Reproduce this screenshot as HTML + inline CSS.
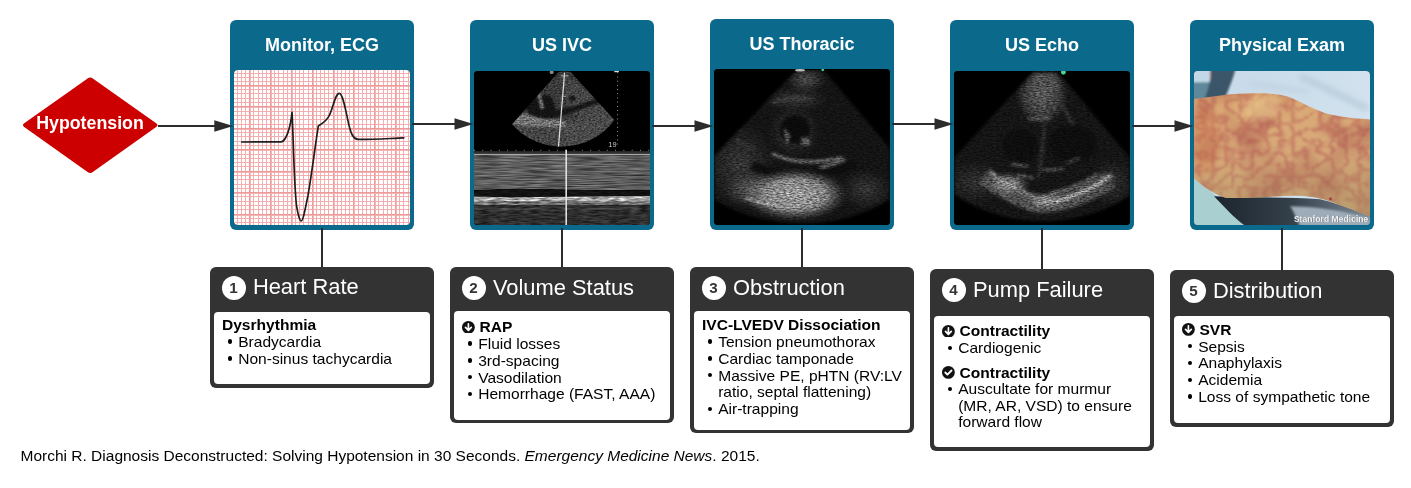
<!DOCTYPE html>
<html><head><meta charset="utf-8"><title>Hypotension</title>
<style>
*{margin:0;padding:0;box-sizing:border-box}
html,body{width:1411px;height:488px;overflow:hidden;background:#fff}
body{position:relative;font-family:"Liberation Sans", sans-serif;color:#000;-webkit-font-smoothing:antialiased}
#wrap{position:absolute;left:0;top:0;width:1411px;height:488px;will-change:transform}
.a{position:absolute}
.card{position:absolute;width:184px;background:#0b6a8b;border-radius:6px}
.ct{position:absolute;left:0;width:184px;text-align:center;color:#fff;font-weight:bold;font-size:18.0px;line-height:20px;white-space:nowrap}
.img{position:absolute;left:4px;width:176px;border-radius:4px;overflow:hidden;background:#000}
.img svg{display:block}
.box{position:absolute;width:224px;background:#333333;border-radius:6px}
.inner{position:absolute;left:4px;right:4px;bottom:3.6px;background:#fff;border-radius:4px}
.num{position:absolute;width:24.2px;height:24.2px;border-radius:50%;background:#fff;color:#333;font-weight:bold;font-size:15.2px;line-height:24.6px;text-align:center;text-indent:-1px}
.bt{position:absolute;color:#fff;font-size:21.9px;line-height:24px;white-space:nowrap}
.tx{position:absolute;font-size:15.55px;line-height:17px;white-space:nowrap;color:#000}
.b{font-weight:bold}
.dot{position:absolute;width:4.4px;height:4.4px;border-radius:50%;background:#000}
</style></head><body><div id="wrap">

<svg class="a" style="left:0;top:0;z-index:5" width="1411" height="488" viewBox="0 0 1411 488"><path d="M87.59,78.45 Q90.20,76.60 92.81,78.45 L156.19,123.35 Q158.80,125.20 156.19,127.05 L92.81,171.95 Q90.20,173.80 87.59,171.95 L24.21,127.05 Q21.60,125.20 24.21,123.35 Z" fill="#cc0000"/><line x1="158" y1="126" x2="215.29999999999998" y2="126" stroke="#2c2c2c" stroke-width="2.2"/><path d="M214.29999999999998,120.3 L233.2,126 L214.29999999999998,131.7 Z" fill="#2c2c2c"/><line x1="412" y1="124" x2="455.5" y2="124" stroke="#2c2c2c" stroke-width="2.2"/><path d="M454.5,118.3 L473.4,124 L454.5,129.7 Z" fill="#2c2c2c"/><line x1="652" y1="126" x2="695.5" y2="126" stroke="#2c2c2c" stroke-width="2.2"/><path d="M694.5,120.3 L713.4,126 L694.5,131.7 Z" fill="#2c2c2c"/><line x1="892" y1="124" x2="935.5" y2="124" stroke="#2c2c2c" stroke-width="2.2"/><path d="M934.5,118.3 L953.4,124 L934.5,129.7 Z" fill="#2c2c2c"/><line x1="1132" y1="126" x2="1175.5" y2="126" stroke="#2c2c2c" stroke-width="2.2"/><path d="M1174.5,120.3 L1193.4,126 L1174.5,131.7 Z" fill="#2c2c2c"/></svg>
<div class="a" style="left:321px;top:227.6px;width:2px;height:39.4px;background:#2c2c2c;z-index:5"></div>
<div class="a" style="left:561px;top:227.6px;width:2px;height:39.5px;background:#2c2c2c;z-index:5"></div>
<div class="a" style="left:801px;top:227.6px;width:2px;height:39.5px;background:#2c2c2c;z-index:5"></div>
<div class="a" style="left:1041px;top:227.6px;width:2px;height:41.5px;background:#2c2c2c;z-index:5"></div>
<div class="a" style="left:1281px;top:227.6px;width:2px;height:42.6px;background:#2c2c2c;z-index:5"></div>
<div class="a" style="z-index:6;left:22px;width:136px;text-align:center;top:112.76px;color:#fff;font-weight:bold;font-size:17.8px;line-height:20px">Hypotension</div>
<div class="card" style="left:230px;top:20.3px;height:209.3px"><div class="ct" style="top:14.26px">Monitor, ECG</div><div class="img" style="top:49.3px;height:155.9px"><svg width="176" height="156" viewBox="234 69.6 176 156" shape-rendering="crispEdges">
<rect x="234" y="70" width="176" height="156" fill="#fff"/>
<g fill-opacity="0.92"><rect x="233" y="70" width="1" height="156" fill="#f3a9a9"/><rect x="237" y="70" width="1" height="156" fill="#f3a9a9"/><rect x="241" y="70" width="1" height="156" fill="#f3a9a9"/><rect x="245" y="70" width="1" height="156" fill="#f3a9a9"/><rect x="249" y="70" width="1" height="156" fill="#ec9191"/><rect x="250" y="70" width="0.6" height="156" fill="#f3b0b0"/><rect x="253" y="70" width="1" height="156" fill="#f3a9a9"/><rect x="258" y="70" width="1" height="156" fill="#f3a9a9"/><rect x="262" y="70" width="1" height="156" fill="#f3a9a9"/><rect x="266" y="70" width="1" height="156" fill="#f3a9a9"/><rect x="270" y="70" width="1" height="156" fill="#ec9191"/><rect x="271" y="70" width="0.6" height="156" fill="#f3b0b0"/><rect x="274" y="70" width="1" height="156" fill="#f3a9a9"/><rect x="278" y="70" width="1" height="156" fill="#f3a9a9"/><rect x="283" y="70" width="1" height="156" fill="#f3a9a9"/><rect x="287" y="70" width="1" height="156" fill="#f3a9a9"/><rect x="291" y="70" width="1" height="156" fill="#ec9191"/><rect x="292" y="70" width="0.6" height="156" fill="#f3b0b0"/><rect x="295" y="70" width="1" height="156" fill="#f3a9a9"/><rect x="299" y="70" width="1" height="156" fill="#f3a9a9"/><rect x="303" y="70" width="1" height="156" fill="#f3a9a9"/><rect x="308" y="70" width="1" height="156" fill="#f3a9a9"/><rect x="312" y="70" width="1" height="156" fill="#ec9191"/><rect x="313" y="70" width="0.6" height="156" fill="#f3b0b0"/><rect x="316" y="70" width="1" height="156" fill="#f3a9a9"/><rect x="320" y="70" width="1" height="156" fill="#f3a9a9"/><rect x="324" y="70" width="1" height="156" fill="#f3a9a9"/><rect x="328" y="70" width="1" height="156" fill="#f3a9a9"/><rect x="333" y="70" width="1" height="156" fill="#ec9191"/><rect x="334" y="70" width="0.6" height="156" fill="#f3b0b0"/><rect x="337" y="70" width="1" height="156" fill="#f3a9a9"/><rect x="341" y="70" width="1" height="156" fill="#f3a9a9"/><rect x="345" y="70" width="1" height="156" fill="#f3a9a9"/><rect x="349" y="70" width="1" height="156" fill="#f3a9a9"/><rect x="353" y="70" width="1" height="156" fill="#ec9191"/><rect x="354" y="70" width="0.6" height="156" fill="#f3b0b0"/><rect x="358" y="70" width="1" height="156" fill="#f3a9a9"/><rect x="362" y="70" width="1" height="156" fill="#f3a9a9"/><rect x="366" y="70" width="1" height="156" fill="#f3a9a9"/><rect x="370" y="70" width="1" height="156" fill="#f3a9a9"/><rect x="374" y="70" width="1" height="156" fill="#ec9191"/><rect x="375" y="70" width="0.6" height="156" fill="#f3b0b0"/><rect x="378" y="70" width="1" height="156" fill="#f3a9a9"/><rect x="383" y="70" width="1" height="156" fill="#f3a9a9"/><rect x="387" y="70" width="1" height="156" fill="#f3a9a9"/><rect x="391" y="70" width="1" height="156" fill="#f3a9a9"/><rect x="395" y="70" width="1" height="156" fill="#ec9191"/><rect x="396" y="70" width="0.6" height="156" fill="#f3b0b0"/><rect x="399" y="70" width="1" height="156" fill="#f3a9a9"/><rect x="403" y="70" width="1" height="156" fill="#f3a9a9"/><rect x="408" y="70" width="1" height="156" fill="#f3a9a9"/><rect x="234" y="69" width="176" height="1" fill="#f3a9a9"/><rect x="234" y="73" width="176" height="1" fill="#f3a9a9"/><rect x="234" y="77" width="176" height="1" fill="#f3a9a9"/><rect x="234" y="81" width="176" height="1" fill="#f3a9a9"/><rect x="234" y="85" width="176" height="1" fill="#ec9191"/><rect x="234" y="86" width="176" height="0.6" fill="#f3b0b0"/><rect x="234" y="89" width="176" height="1" fill="#f3a9a9"/><rect x="234" y="93" width="176" height="1" fill="#f3a9a9"/><rect x="234" y="98" width="176" height="1" fill="#f3a9a9"/><rect x="234" y="102" width="176" height="1" fill="#f3a9a9"/><rect x="234" y="106" width="176" height="1" fill="#ec9191"/><rect x="234" y="107" width="176" height="0.6" fill="#f3b0b0"/><rect x="234" y="111" width="176" height="1" fill="#f3a9a9"/><rect x="234" y="115" width="176" height="1" fill="#f3a9a9"/><rect x="234" y="119" width="176" height="1" fill="#f3a9a9"/><rect x="234" y="124" width="176" height="1" fill="#f3a9a9"/><rect x="234" y="128" width="176" height="1" fill="#ec9191"/><rect x="234" y="129" width="176" height="0.6" fill="#f3b0b0"/><rect x="234" y="132" width="176" height="1" fill="#f3a9a9"/><rect x="234" y="136" width="176" height="1" fill="#f3a9a9"/><rect x="234" y="141" width="176" height="1" fill="#f3a9a9"/><rect x="234" y="145" width="176" height="1" fill="#f3a9a9"/><rect x="234" y="149" width="176" height="1" fill="#ec9191"/><rect x="234" y="150" width="176" height="0.6" fill="#f3b0b0"/><rect x="234" y="154" width="176" height="1" fill="#f3a9a9"/><rect x="234" y="158" width="176" height="1" fill="#f3a9a9"/><rect x="234" y="162" width="176" height="1" fill="#f3a9a9"/><rect x="234" y="166" width="176" height="1" fill="#f3a9a9"/><rect x="234" y="171" width="176" height="1" fill="#ec9191"/><rect x="234" y="172" width="176" height="0.6" fill="#f3b0b0"/><rect x="234" y="175" width="176" height="1" fill="#f3a9a9"/><rect x="234" y="179" width="176" height="1" fill="#f3a9a9"/><rect x="234" y="184" width="176" height="1" fill="#f3a9a9"/><rect x="234" y="188" width="176" height="1" fill="#f3a9a9"/><rect x="234" y="192" width="176" height="1" fill="#ec9191"/><rect x="234" y="193" width="176" height="0.6" fill="#f3b0b0"/><rect x="234" y="196" width="176" height="1" fill="#f3a9a9"/><rect x="234" y="201" width="176" height="1" fill="#f3a9a9"/><rect x="234" y="205" width="176" height="1" fill="#f3a9a9"/><rect x="234" y="209" width="176" height="1" fill="#f3a9a9"/><rect x="234" y="214" width="176" height="1" fill="#ec9191"/><rect x="234" y="215" width="176" height="0.6" fill="#f3b0b0"/><rect x="234" y="218" width="176" height="1" fill="#f3a9a9"/><rect x="234" y="222" width="176" height="1" fill="#f3a9a9"/></g>
<path shape-rendering="geometricPrecision" d="M241.7,141.6 L281.5,141.5 C286,140 290.5,128 292,112 C293,125 294,185 296.5,205 C298,215 300,221 301.3,220.6 C303,220.6 305,210 308,195 C312,172 316,140 318.3,125.5 C322,123.5 325.5,121 328.5,116.5 C333,109 335,93 339.3,93 C343,93 346,112 349,125 C351,133 353,138.5 358,139 C370,139.3 390,138 403.8,137.5" fill="none" stroke="#1e1e1e" stroke-width="1.7" stroke-linejoin="round" stroke-linecap="round"/>
</svg></div></div>
<div class="card" style="left:470px;top:20.3px;height:209.3px"><div class="ct" style="top:14.26px">US IVC</div><div class="img" style="top:50.4px;height:154.8px"><svg width="176" height="156" viewBox="474 70.7 176 156">
<defs>
<filter id="n2" x="0" y="0" width="100%" height="100%" color-interpolation-filters="sRGB"><feGaussianBlur in="SourceGraphic" stdDeviation="0.9" result="s"/><feTurbulence type="fractalNoise" baseFrequency="0.45 0.7" numOctaves="2" seed="2" result="t"/><feColorMatrix in="t" type="matrix" values="1 0 0 0 0  1 0 0 0 0  1 0 0 0 0  0 0 0 0 1" result="g0"/><feComponentTransfer in="g0" result="g"><feFuncR type="linear" slope="0.8" intercept="0.09999999999999998"/><feFuncG type="linear" slope="0.8" intercept="0.09999999999999998"/><feFuncB type="linear" slope="0.8" intercept="0.09999999999999998"/></feComponentTransfer><feComposite in="s" in2="g" operator="arithmetic" k1="2" k2="0" k3="0" k4="0"/></filter>
<filter id="n2h" x="0" y="0" width="100%" height="100%" color-interpolation-filters="sRGB"><feGaussianBlur in="SourceGraphic" stdDeviation="0.3" result="s"/><feTurbulence type="fractalNoise" baseFrequency="0.04 0.8" numOctaves="2" seed="5" result="t"/><feColorMatrix in="t" type="matrix" values="1 0 0 0 0  1 0 0 0 0  1 0 0 0 0  0 0 0 0 1" result="g0"/><feComponentTransfer in="g0" result="g"><feFuncR type="linear" slope="0.75" intercept="0.125"/><feFuncG type="linear" slope="0.75" intercept="0.125"/><feFuncB type="linear" slope="0.75" intercept="0.125"/></feComponentTransfer><feComposite in="s" in2="g" operator="arithmetic" k1="2" k2="0" k3="0" k4="0"/></filter>
<filter id="n2b" x="0" y="0" width="100%" height="100%" color-interpolation-filters="sRGB"><feGaussianBlur in="SourceGraphic" stdDeviation="0.7" result="s"/><feTurbulence type="fractalNoise" baseFrequency="0.1 0.6" numOctaves="2" seed="9" result="t"/><feColorMatrix in="t" type="matrix" values="1 0 0 0 0  1 0 0 0 0  1 0 0 0 0  0 0 0 0 1" result="g0"/><feComponentTransfer in="g0" result="g"><feFuncR type="linear" slope="0.9" intercept="0.04999999999999999"/><feFuncG type="linear" slope="0.9" intercept="0.04999999999999999"/><feFuncB type="linear" slope="0.9" intercept="0.04999999999999999"/></feComponentTransfer><feComposite in="s" in2="g" operator="arithmetic" k1="2" k2="0" k3="0" k4="0"/></filter>
<clipPath id="fan2"><path d="M558.5,71.8 Q564.5,70.2 570.6,71.8 L614.5,119.7 A66,66 0 0 1 512,124 Z"/></clipPath>
</defs>
<rect x="474" y="70" width="176" height="156" fill="#000"/>
<g clip-path="url(#fan2)"><g filter="url(#n2)">
<rect x="500" y="68" width="130" height="82" fill="#3a3a3a"/>
<path d="M560,72 L600,100 L612,118 L590,122 L570,112 Z" fill="#464646"/>
<path d="M514,116 C525,112 538,113 548,116 C555,119 560,121 566,121 L566,127 C545,128 525,126 512,124 Z" fill="#747474"/>
<path d="M512,124 C525,126 545,128 566,127 L566,146 L512,146 Z" fill="#444"/>
<path d="M524,106 C530,96 540,92 551,96 C555,104 557,110 555,118 C548,120 540,118 530,115 Z" fill="#141414"/>
<path d="M548,112 C560,109 572,106.5 580,104 C590,100.5 602,96.5 616,92 L616,98.5 C602,102 594,104.5 586,107.5 C572,113 560,116.5 548,119 Z" fill="#151515"/>
<ellipse cx="572.4" cy="98" rx="3.4" ry="2.6" fill="#121212"/>
<path d="M540,92 L544,108 L541,109 L537,93 Z" fill="#7e7e7e"/>
<path d="M566,122 C580,118 600,112 614,114 L614,140 L566,146 Z" fill="#4a4a4a"/>
</g></g>
<path d="M564.6,72.3 L558.5,146.3" stroke="#dcdcdc" stroke-width="1.2"/>
<path d="M561,75.5 L568.5,75.5 M561.5,96 L566,96" stroke="#bbb" stroke-width="0.8"/>
<circle cx="551.7" cy="71.9" r="1.9" fill="#8a8a8a"/>
<rect x="614.3" y="70.7" width="4.6" height="1.2" fill="#ddd"/>
<path d="M617.6,72 L617.6,144" stroke="#bbb" stroke-width="0.9" stroke-dasharray="0.9 3.3"/>
<text x="608.3" y="146.4" fill="#c8c8c8" font-size="7.4" font-family="Liberation Sans">19</text>
<path d="M474,150 L650,150" stroke="#aaa" stroke-width="0.9" stroke-dasharray="0.9 7.4"/>
<rect x="474" y="150.9" width="176" height="2.5" fill="#303030"/>
<rect x="474" y="153.5" width="176" height="1.2" fill="#a8a8a8"/>
<g filter="url(#n2h)">
<rect x="474" y="154.7" width="176" height="36" fill="#5c5c5c"/>
</g>
<g filter="url(#n2b)">
<path d="M474,190.2 C490,189.6 505,188.8 520,188.6 C540,188.6 560,189.6 600,190.2 C620,190.4 640,190.2 650,190 L650,195.6 C620,195.8 590,196 560,196.5 C540,196.8 520,197 500,196.8 C490,196.6 480,196.4 474,196.2 Z" fill="#121212"/>
<path d="M474,196.2 C480,196.4 490,196.6 500,196.8 C520,197 540,196.8 560,196.5 C590,196 620,195.8 650,195.6 L650,201.5 L474,201.5 Z" fill="#aeaeae"/>
<rect x="474" y="201.5" width="176" height="3.5" fill="#6e6e6e"/>
<rect x="474" y="205" width="176" height="21" fill="#2e2e2e"/>
<rect x="474" y="207.5" width="176" height="2" fill="#3e3e3e"/>
</g>
<path d="M566.2,149.5 L566.2,226" stroke="#e0e0e0" stroke-width="1.6"/>
</svg></div></div>
<div class="card" style="left:710px;top:19.3px;height:210.3px"><div class="ct" style="top:14.36px">US Thoracic</div><div class="img" style="top:50.1px;height:156.1px"><svg width="176" height="156" viewBox="714 69.4 176 156">
<defs>
<filter id="n3" x="0" y="0" width="100%" height="100%" color-interpolation-filters="sRGB"><feGaussianBlur in="SourceGraphic" stdDeviation="1.4" result="s"/><feTurbulence type="fractalNoise" baseFrequency="0.3 0.8" numOctaves="2" seed="7" result="t"/><feColorMatrix in="t" type="matrix" values="1 0 0 0 0  1 0 0 0 0  1 0 0 0 0  0 0 0 0 1" result="g0"/><feComponentTransfer in="g0" result="g"><feFuncR type="linear" slope="0.8" intercept="0.09999999999999998"/><feFuncG type="linear" slope="0.8" intercept="0.09999999999999998"/><feFuncB type="linear" slope="0.8" intercept="0.09999999999999998"/></feComponentTransfer><feComposite in="s" in2="g" operator="arithmetic" k1="2" k2="0" k3="0" k4="0"/></filter>
<filter id="sb3" x="-20%" y="-20%" width="140%" height="140%"><feGaussianBlur stdDeviation="1.5"/></filter>
<mask id="fan3" maskUnits="userSpaceOnUse" x="714" y="70" width="176" height="156"><path d="M797,70 L714,156.6 L714,199.9 A173,173 0 0 0 890,199.9 L890,149 L823,70 Z" fill="#fff" filter="url(#sb3)"/></mask>
<radialGradient id="t3a"><stop offset="0" stop-color="#4c4c4c"/><stop offset="1" stop-color="#4c4c4c" stop-opacity="0"/></radialGradient>
<radialGradient id="t3b"><stop offset="0" stop-color="#9c9c9c"/><stop offset="0.6" stop-color="#828282"/><stop offset="1" stop-color="#5a5a5a" stop-opacity="0"/></radialGradient>
<radialGradient id="t3c"><stop offset="0" stop-color="#363636"/><stop offset="1" stop-color="#363636" stop-opacity="0"/></radialGradient>
<radialGradient id="t3d"><stop offset="0" stop-color="#5c5c5c"/><stop offset="1" stop-color="#5c5c5c" stop-opacity="0"/></radialGradient>
</defs>
<rect x="714" y="70" width="176" height="156" fill="#000"/>
<g mask="url(#fan3)"><g filter="url(#n3)">
<rect x="700" y="60" width="200" height="170" fill="#141414"/>
<ellipse cx="740" cy="165" rx="36" ry="42" fill="url(#t3c)"/>
<ellipse cx="806" cy="80" rx="20" ry="14" fill="url(#t3a)"/>
<ellipse cx="795" cy="100" rx="34" ry="12" fill="url(#t3c)"/>
<ellipse cx="794" cy="132" rx="26" ry="26" fill="url(#t3c)"/>
<ellipse cx="866" cy="190" rx="26" ry="20" fill="url(#t3c)"/>
<ellipse cx="795" cy="130" rx="15" ry="14" fill="#0b0b0b"/>
<path d="M784,128 L790,136 L787,146 Z" fill="#6a6a6a"/>
<path d="M801,138 C806,136 811,139 811,145 L802,146 Z" fill="#585858"/>
<path d="M772,104 C785,98 800,97 812,100" stroke="#4a4a4a" stroke-width="1.8" fill="none"/>
<path d="M735,140 L755,150" stroke="#464646" stroke-width="1.5"/>
<path d="M728,125 L742,132" stroke="#3e3e3e" stroke-width="1.3"/>
<path d="M772,154 Q800,168 842,158" stroke="#858585" stroke-width="2.5" fill="none"/>
<path d="M752,166 Q800,186 856,164" stroke="#0e0e0e" stroke-width="9" fill="none"/>
<ellipse cx="752" cy="190" rx="28" ry="18" fill="url(#t3d)"/>
<ellipse cx="795" cy="195" rx="52" ry="26" fill="url(#t3b)"/>
<path d="M745,198 C755,202 768,205 780,207" stroke="#b0b0b0" stroke-width="2.2" fill="none"/>
<path d="M820,168 C830,166 838,163 845,160" stroke="#9a9a9a" stroke-width="2" fill="none"/>
</g></g>
<circle cx="822.8" cy="70.2" r="1.4" fill="#3fcf8a"/>
<ellipse cx="800" cy="70.6" rx="5" ry="1.2" fill="#bbb"/>
</svg></div></div>
<div class="card" style="left:950px;top:20.3px;height:209.3px"><div class="ct" style="top:14.26px">US Echo</div><div class="img" style="top:50.6px;height:154.6px"><svg width="176" height="156" viewBox="954 70.9 176 156">
<defs>
<filter id="n4" x="0" y="0" width="100%" height="100%" color-interpolation-filters="sRGB"><feGaussianBlur in="SourceGraphic" stdDeviation="1.4" result="s"/><feTurbulence type="fractalNoise" baseFrequency="0.3 0.8" numOctaves="2" seed="11" result="t"/><feColorMatrix in="t" type="matrix" values="1 0 0 0 0  1 0 0 0 0  1 0 0 0 0  0 0 0 0 1" result="g0"/><feComponentTransfer in="g0" result="g"><feFuncR type="linear" slope="0.85" intercept="0.07500000000000001"/><feFuncG type="linear" slope="0.85" intercept="0.07500000000000001"/><feFuncB type="linear" slope="0.85" intercept="0.07500000000000001"/></feComponentTransfer><feComposite in="s" in2="g" operator="arithmetic" k1="2" k2="0" k3="0" k4="0"/></filter>
<filter id="sb4" x="-20%" y="-20%" width="140%" height="140%"><feGaussianBlur stdDeviation="1.5"/></filter>
<mask id="fan4" maskUnits="userSpaceOnUse" x="954" y="70" width="176" height="156"><path d="M1033,72 L954,158 L954,194.4 A162,162 0 0 0 1130,195.7 L1130,158 L1058,72 Z" fill="#fff" filter="url(#sb4)"/></mask>
<radialGradient id="e4a"><stop offset="0" stop-color="#5a5a5a"/><stop offset="0.6" stop-color="#404040"/><stop offset="1" stop-color="#404040" stop-opacity="0"/></radialGradient>
<radialGradient id="e4c"><stop offset="0" stop-color="#303030"/><stop offset="1" stop-color="#303030" stop-opacity="0"/></radialGradient>
<radialGradient id="e4b"><stop offset="0" stop-color="#a0a0a0"/><stop offset="0.5" stop-color="#7a7a7a"/><stop offset="1" stop-color="#555" stop-opacity="0"/></radialGradient>
</defs>
<rect x="954" y="70" width="176" height="156" fill="#000"/>
<g mask="url(#fan4)"><g filter="url(#n4)">
<rect x="940" y="60" width="200" height="170" fill="#151515"/>
<ellipse cx="1042" cy="95" rx="26" ry="30" fill="url(#e4a)"/>
<path d="M1034,72 L1056,72 L1062,90 L1030,90 Z" fill="#555" opacity="0.6"/>
<ellipse cx="975" cy="182" rx="30" ry="22" fill="url(#e4c)"/>
<ellipse cx="1112" cy="182" rx="22" ry="24" fill="url(#e4c)"/>
<path d="M1028,119 L1050,118" stroke="#7a7a7a" stroke-width="1.6"/>
<path d="M1062,105 L1080,138" stroke="#363636" stroke-width="3"/>
<ellipse cx="1020" cy="146" rx="18" ry="17" fill="#0e0e0e"/>
<ellipse cx="1073" cy="144" rx="24" ry="19" fill="#0e0e0e"/>
<path d="M1045,121 L1039,178" stroke="#2e2e2e" stroke-width="3"/>
<path d="M1011,164 L1028,166" stroke="#9a9a9a" stroke-width="1.4"/>
<path d="M1042,170 L1064,169" stroke="#8a8a8a" stroke-width="1.4"/>
<path d="M1066,163 L1080,158" stroke="#777" stroke-width="1.2"/>
<path d="M984,176 C998,186 1014,196 1034,203 C1056,206 1084,196 1110,180" stroke="#4e4e4e" stroke-width="18" fill="none"/>
<ellipse cx="1008" cy="184" rx="22" ry="12" fill="url(#e4b)" opacity="0.8"/>
<ellipse cx="1046" cy="201" rx="22" ry="9" fill="url(#e4b)" opacity="0.9"/>
<path d="M990,172 C1004,182 1018,190 1034,197" stroke="#9a9a9a" stroke-width="2" fill="none"/>
<path d="M1056,201 C1075,197 1093,188 1112,175" stroke="#b4b4b4" stroke-width="3" fill="none"/>
<path d="M1050,193 C1068,190 1082,184 1098,174" stroke="#868686" stroke-width="1.8" fill="none"/>
<path d="M1018,175 L1034,178" stroke="#8a8a8a" stroke-width="1.5"/>
</g></g>
<circle cx="1063.4" cy="72.2" r="2.4" fill="#4fcf8d"/>
</svg></div></div>
<div class="card" style="left:1190px;top:20.3px;height:209.3px"><div class="ct" style="top:14.26px">Physical Exam</div><div class="img" style="top:50.4px;height:154.8px"><svg width="176" height="156" viewBox="1194 70.7 176 156">
<defs>
<filter id="mott" x="0" y="0" width="100%" height="100%" color-interpolation-filters="sRGB"><feTurbulence type="turbulence" baseFrequency="0.075 0.085" numOctaves="3" seed="4"/><feColorMatrix type="matrix" values="0 0 0 0 0.70  0 0 0 0 0.32  0 0 0 0 0.32  -3 0 0 0 1.15"/><feGaussianBlur stdDeviation="1.3"/><feComposite in2="SourceGraphic" operator="in"/></filter>
<filter id="broad" x="0" y="0" width="100%" height="100%" color-interpolation-filters="sRGB"><feTurbulence type="fractalNoise" baseFrequency="0.025" numOctaves="2" seed="8"/><feColorMatrix type="matrix" values="0 0 0 0 0.62  0 0 0 0 0.26  0 0 0 0 0.26  2.6 0 0 0 -1.15"/><feComposite in2="SourceGraphic" operator="in"/></filter>
<linearGradient id="olive" x1="0" y1="0" x2="0" y2="1"><stop offset="0.5" stop-color="#a89060" stop-opacity="0"/><stop offset="1" stop-color="#a08a5c" stop-opacity="0.45"/></linearGradient>
<filter id="bl1" x="-10%" y="-10%" width="120%" height="120%"><feGaussianBlur stdDeviation="1.2"/></filter>
<filter id="bl3" x="-20%" y="-20%" width="140%" height="140%"><feGaussianBlur stdDeviation="3"/></filter>
<linearGradient id="skin" x1="0" y1="0" x2="0.3" y2="1"><stop offset="0" stop-color="#dcaa72"/><stop offset="0.5" stop-color="#d8aa78"/><stop offset="1" stop-color="#cfa878"/></linearGradient>
<linearGradient id="sheet" x1="0" y1="0" x2="1" y2="0.3"><stop offset="0" stop-color="#c6d8e8"/><stop offset="1" stop-color="#d2e2ee"/></linearGradient>
<linearGradient id="shad" x1="0" y1="0" x2="1" y2="0"><stop offset="0" stop-color="#1c252e"/><stop offset="0.5" stop-color="#34404a"/><stop offset="1" stop-color="#7d8b98"/></linearGradient>
</defs>
<rect x="1194" y="70" width="176" height="156" fill="url(#sheet)"/>
<g filter="url(#bl1)">
<rect x="1190" y="66" width="22" height="18" fill="#c2d8e6"/>
<path d="M1190,82 L1212,82 L1214,100 L1190,100 Z" fill="#5e889a"/>
<path d="M1211,66 L1236,66 C1234,76 1230,86 1224,100 L1204,100 C1208,90 1211,80 1211,66 Z" fill="#3b5667"/>
<path d="M1210.5,70 L1210.5,79" stroke="#b04050" stroke-width="0.8"/>
</g>
<g filter="url(#bl3)">
<path d="M1300,76 C1320,84 1340,96 1368,108" stroke="#a3b9cb" stroke-width="3" fill="none"/>
<path d="M1250,84 C1270,86 1290,88 1310,92" stroke="#aec3d4" stroke-width="2" fill="none"/>
</g>
<path d="M1194,176 C1205,186 1214,194 1220,199 C1226,208 1234,218 1248,226 L1194,226 Z" fill="#a9cfd0"/>
<path d="M1214,196 C1250,198 1290,196 1320,199 C1345,205 1360,212 1370,216 L1370,226 L1246,226 C1234,218 1226,208 1214,196 Z" fill="url(#shad)"/>
<path d="M1290,206 C1330,207 1350,213 1370,218 L1370,226 L1300,226 C1296,218 1294,211 1290,206 Z" fill="#9eacba" filter="url(#bl1)"/>
<path d="M1194,98.7 C1215,96 1235,93 1252,93 C1268,93 1282,93.5 1292,98 C1305,104 1318,111 1330,114.3 C1345,117.5 1358,118.5 1370,119.2 L1370,216.5 C1355,210 1345,207 1330,201 C1315,196 1300,194 1284,195.8 C1260,197 1240,198 1226,197.6 C1215,194 1205,188 1194,178 Z" fill="url(#skin)"/>
<path d="M1194,98.7 C1215,96 1235,93 1252,93 C1268,93 1282,93.5 1292,98 C1305,104 1318,111 1330,114.3 C1345,117.5 1358,118.5 1370,119.2 L1370,216.5 C1355,210 1345,207 1330,201 C1315,196 1300,194 1284,195.8 C1260,197 1240,198 1226,197.6 C1215,194 1205,188 1194,178 Z" fill="#fff" filter="url(#mott)" opacity="0.55"/>
<path d="M1194,98.7 C1215,96 1235,93 1252,93 C1268,93 1282,93.5 1292,98 C1305,104 1318,111 1330,114.3 C1345,117.5 1358,118.5 1370,119.2 L1370,216.5 C1355,210 1345,207 1330,201 C1315,196 1300,194 1284,195.8 C1260,197 1240,198 1226,197.6 C1215,194 1205,188 1194,178 Z" fill="#fff" filter="url(#broad)" opacity="0.45"/>
<path d="M1194,98.7 C1215,96 1235,93 1252,93 C1268,93 1282,93.5 1292,98 C1305,104 1318,111 1330,114.3 C1345,117.5 1358,118.5 1370,119.2 L1370,216.5 C1355,210 1345,207 1330,201 C1315,196 1300,194 1284,195.8 C1260,197 1240,198 1226,197.6 C1215,194 1205,188 1194,178 Z" fill="url(#olive)"/>
<ellipse cx="1262" cy="108" rx="18" ry="12" fill="#efd092" opacity="0.55" filter="url(#bl3)"/>
<ellipse cx="1204" cy="140" rx="14" ry="34" fill="#c8704a" opacity="0.35" filter="url(#bl3)"/>
<circle cx="1330.5" cy="198.5" r="1.5" fill="#a8403a"/>
<text x="1368.9" y="221.8" text-anchor="end" fill="#333" opacity="0.6" font-size="8.6" font-weight="bold" font-family="Liberation Sans">Stanford Medicine</text><text x="1368.4" y="221.3" text-anchor="end" fill="#f4f4f4" font-size="8.6" font-weight="bold" font-family="Liberation Sans">Stanford Medicine</text>
</svg></div></div>
<div class="box" style="left:210px;top:266.5px;height:121.0px">
<div class="inner" style="top:45.0px"></div>
<div class="num" style="left:11.9px;top:9.0px">1</div>
<div class="bt" style="left:42.9px;top:8.91px">Heart Rate</div>
<div class="tx b" style="left:12.0px;top:49.61px">Dysrhythmia</div>
<div class="dot" style="left:17.8px;top:72.80px"></div>
<div class="tx" style="left:28.2px;top:66.31px">Bradycardia</div>
<div class="dot" style="left:17.8px;top:89.70px"></div>
<div class="tx" style="left:28.2px;top:83.21px">Non-sinus tachycardia</div>
</div>
<div class="box" style="left:450px;top:266.6px;height:156.5px">
<div class="inner" style="top:44.7px"></div>
<div class="num" style="left:11.9px;top:9.0px">2</div>
<div class="bt" style="left:42.9px;top:8.91px">Volume Status</div>
<div class="a" style="left:12.3px;top:54.00px"><svg width="12.8" height="12.8" viewBox="-6.4 -6.4 12.8 12.8" style="display:block"><circle r="6.4" fill="#111"/><path d="M0,-3.6 V2.6 M-2.9,0 L0,2.9 L2.9,0" fill="none" stroke="#fff" stroke-width="1.7" stroke-linecap="round" stroke-linejoin="round"/></svg></div>
<div class="tx b" style="left:29.5px;top:51.51px">RAP</div>
<div class="dot" style="left:17.8px;top:74.80px"></div>
<div class="tx" style="left:28.2px;top:68.31px">Fluid losses</div>
<div class="dot" style="left:17.8px;top:91.60px"></div>
<div class="tx" style="left:28.2px;top:85.11px">3rd-spacing</div>
<div class="dot" style="left:17.8px;top:108.40px"></div>
<div class="tx" style="left:28.2px;top:101.91px">Vasodilation</div>
<div class="dot" style="left:17.8px;top:125.30px"></div>
<div class="tx" style="left:28.2px;top:118.81px">Hemorrhage (FAST, AAA)</div>
</div>
<div class="box" style="left:690px;top:266.6px;height:166.5px">
<div class="inner" style="top:44.9px"></div>
<div class="num" style="left:11.9px;top:9.0px">3</div>
<div class="bt" style="left:42.9px;top:8.91px">Obstruction</div>
<div class="tx b" style="left:12.0px;top:49.61px">IVC-LVEDV Dissociation</div>
<div class="dot" style="left:17.8px;top:72.90px"></div>
<div class="tx" style="left:28.2px;top:66.41px">Tension pneumothorax</div>
<div class="dot" style="left:17.8px;top:89.70px"></div>
<div class="tx" style="left:28.2px;top:83.21px">Cardiac tamponade</div>
<div class="dot" style="left:17.8px;top:106.50px"></div>
<div class="tx" style="left:28.2px;top:100.01px">Massive PE, pHTN (RV:LV</div>
<div class="tx" style="left:28.2px;top:116.81px">ratio, septal flattening)</div>
<div class="dot" style="left:17.8px;top:140.10px"></div>
<div class="tx" style="left:28.2px;top:133.61px">Air-trapping</div>
</div>
<div class="box" style="left:930px;top:268.6px;height:182.2px">
<div class="inner" style="top:47.1px"></div>
<div class="num" style="left:11.9px;top:9.0px">4</div>
<div class="bt" style="left:42.9px;top:8.91px">Pump Failure</div>
<div class="a" style="left:12.3px;top:56.00px"><svg width="12.8" height="12.8" viewBox="-6.4 -6.4 12.8 12.8" style="display:block"><circle r="6.4" fill="#111"/><path d="M0,-3.6 V2.6 M-2.9,0 L0,2.9 L2.9,0" fill="none" stroke="#fff" stroke-width="1.7" stroke-linecap="round" stroke-linejoin="round"/></svg></div>
<div class="tx b" style="left:29.5px;top:53.51px">Contractility</div>
<div class="dot" style="left:17.8px;top:77.00px"></div>
<div class="tx" style="left:28.2px;top:70.51px">Cardiogenic</div>
<div class="a" style="left:12.3px;top:97.70px"><svg width="12.8" height="12.8" viewBox="-6.4 -6.4 12.8 12.8" style="display:block"><circle r="6.4" fill="#111"/><path d="M-3.1,0.1 L-1,2.2 L3.1,-1.9" fill="none" stroke="#fff" stroke-width="1.8" stroke-linecap="round" stroke-linejoin="round"/></svg></div>
<div class="tx b" style="left:29.5px;top:95.21px">Contractility</div>
<div class="dot" style="left:17.8px;top:118.30px"></div>
<div class="tx" style="left:28.2px;top:111.81px">Auscultate for murmur</div>
<div class="tx" style="left:28.2px;top:128.41px">(MR, AR, VSD) to ensure</div>
<div class="tx" style="left:28.2px;top:144.81px">forward flow</div>
</div>
<div class="box" style="left:1170px;top:269.7px;height:157.1px">
<div class="inner" style="top:46.1px"></div>
<div class="num" style="left:11.9px;top:9.0px">5</div>
<div class="bt" style="left:42.9px;top:8.91px">Distribution</div>
<div class="a" style="left:12.3px;top:53.50px"><svg width="12.8" height="12.8" viewBox="-6.4 -6.4 12.8 12.8" style="display:block"><circle r="6.4" fill="#111"/><path d="M0,-3.6 V2.6 M-2.9,0 L0,2.9 L2.9,0" fill="none" stroke="#fff" stroke-width="1.7" stroke-linecap="round" stroke-linejoin="round"/></svg></div>
<div class="tx b" style="left:29.5px;top:51.01px">SVR</div>
<div class="dot" style="left:17.8px;top:74.40px"></div>
<div class="tx" style="left:28.2px;top:67.91px">Sepsis</div>
<div class="dot" style="left:17.8px;top:91.20px"></div>
<div class="tx" style="left:28.2px;top:84.71px">Anaphylaxis</div>
<div class="dot" style="left:17.8px;top:108.00px"></div>
<div class="tx" style="left:28.2px;top:101.51px">Acidemia</div>
<div class="dot" style="left:17.8px;top:124.80px"></div>
<div class="tx" style="left:28.2px;top:118.31px">Loss of sympathetic tone</div>
</div>
<div class="a" style="left:20.5px;top:447.43px;font-size:15.5px;line-height:18px;white-space:nowrap;color:#000">Morchi R. Diagnosis Deconstructed: Solving Hypotension in 30 Seconds. <i>Emergency Medicine News</i>. 2015.</div>
</div></body></html>
